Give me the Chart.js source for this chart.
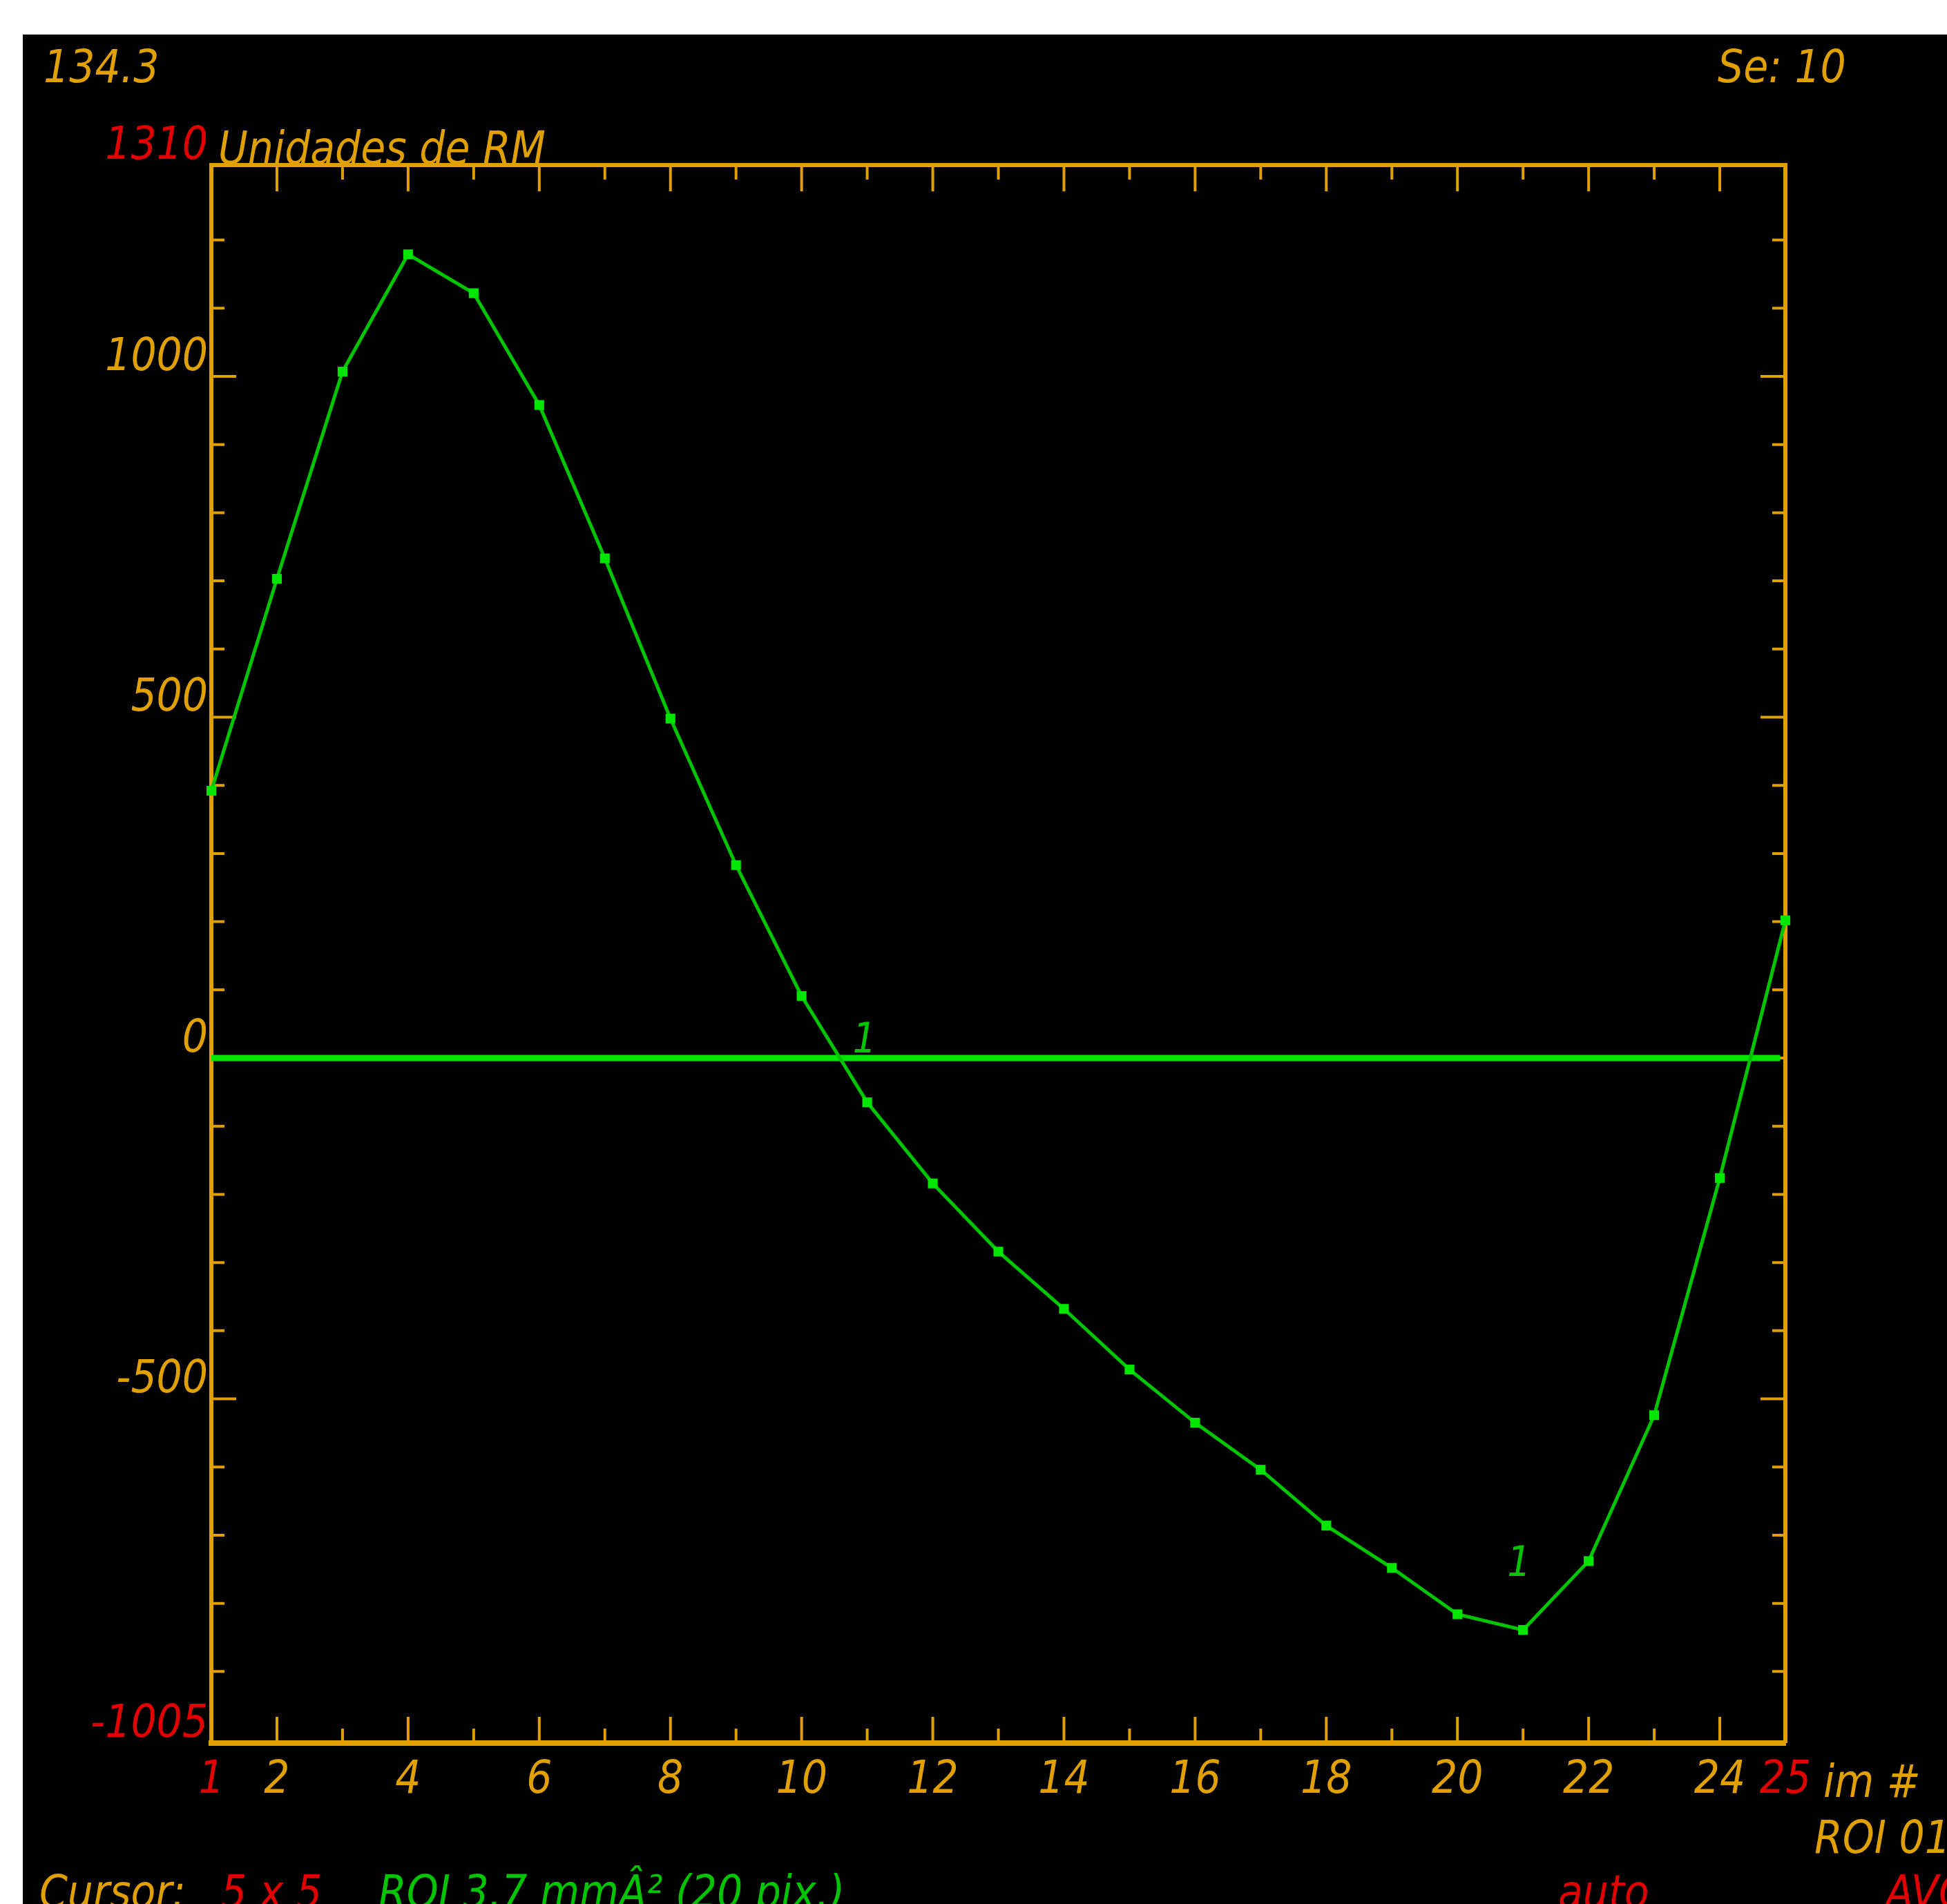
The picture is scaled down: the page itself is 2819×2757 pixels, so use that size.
<!DOCTYPE html>
<html>
<head>
<meta charset="utf-8">
<script src="https://cdn.jsdelivr.net/npm/chart.js@4.4.0/dist/chart.umd.min.js"></script>
<style>
  html, body { margin: 0; padding: 0; background: #fff; }
  canvas { display: block; }
</style>
</head>
<body>
<canvas id="roiChart" width="2819" height="2757"></canvas>
<script>
// ROI mean signal (Unidades de RM) per image number
var imageNumbers = [1, 2, 3, 4, 5, 6, 7, 8, 9, 10, 11, 12, 13, 14, 15, 16, 17, 18, 19, 20, 21, 22, 23, 24, 25];
var roiValues = [392, 703, 1007, 1179, 1122, 958, 733, 498, 283, 91, -65, -184, -284, -368, -457, -535, -604, -686, -748, -816, -839, -738, -524, -176, 202];
var zeroLineX = [1, 24.92];
var zeroLineY = [0, 0];
var yMin = -1005;
var yMax = 1310;
var yLabelTicks = [-1005, -500, 0, 500, 1000, 1310];
var xLabelTicks = [1, 2, 4, 6, 8, 10, 12, 14, 16, 18, 20, 22, 24, 25];
// where the little "1" curve tags sit, in data units
var curveTags = [{x: 10.96, y: 0}, {x: 20.94, y: -768}];

var amber = '#e0a000';
var red = '#e00000';
var green = '#00c400';
var brightGreen = '#00e600';
var fontFamily = "'Liberation Sans Narrow', 'DejaVu Sans Condensed', 'DejaVu Sans', sans-serif";
var fontSize = 65;

function txt(ctx, s, x, y, color, align) {
  ctx.fillStyle = color;
  ctx.textAlign = align || 'left';
  ctx.textBaseline = 'alphabetic';
  ctx.fillText(s, x, y);
}

var screenPlugin = {
  id: 'screen',
  beforeDraw: function(chart) {
    var ctx = chart.ctx;
    ctx.save();
    ctx.fillStyle = '#fff';
    ctx.fillRect(0, 0, chart.width, chart.height);
    ctx.fillStyle = '#000';
    ctx.fillRect(33, 50, chart.width - 33, chart.height - 50);
    ctx.restore();
  },
  beforeDatasetsDraw: function(chart) {
    var ctx = chart.ctx, a = chart.chartArea;
    var xs = chart.scales.x, ys = chart.scales.y;
    ctx.save();
    ctx.strokeStyle = amber;
    ctx.lineWidth = 6;
    ctx.beginPath();
    ctx.moveTo(a.left, a.top);
    ctx.lineTo(a.right, a.top);
    ctx.lineTo(a.right, a.bottom);
    ctx.stroke();
    ctx.lineWidth = 4;
    ctx.beginPath();
    imageNumbers.forEach(function(n) {
      if (n === 1 || n === 25) return;
      var px = xs.getPixelForValue(n);
      var len = n % 2 === 0 ? 38 : 21;
      ctx.moveTo(px, a.bottom);
      ctx.lineTo(px, a.bottom - len);
      ctx.moveTo(px, a.top);
      ctx.lineTo(px, a.top + len);
    });
    for (var v = -900; v <= 1200; v += 100) {
      var py = ys.getPixelForValue(v);
      var len = v % 500 === 0 ? 36 : 19;
      ctx.moveTo(a.left, py);
      ctx.lineTo(a.left + len, py);
      ctx.moveTo(a.right, py);
      ctx.lineTo(a.right - len, py);
    }
    ctx.stroke();
    ctx.restore();
  },
  afterDraw: function(chart) {
    var ctx = chart.ctx, a = chart.chartArea;
    var xs = chart.scales.x, ys = chart.scales.y;
    ctx.save();
    ctx.font = 'italic ' + fontSize + 'px ' + fontFamily;
    txt(ctx, '134.3', 63, 119, amber);
    txt(ctx, 'Se: 10', 2487, 119, amber);
    txt(ctx, 'Unidades de RM', a.left + 10, a.top - 2, amber);
    txt(ctx, 'im #', 2640, a.bottom + 78, amber);
    txt(ctx, 'ROI 01', 2627, 2683, amber);
    txt(ctx, 'Cursor:', 57, 2762, amber);
    txt(ctx, '5 x 5', 320, 2762, red);
    txt(ctx, 'ROI 3.7 mmÂ² (20 pix.)', 548, 2762, green);
    txt(ctx, 'auto', 2256, 2762, red);
    txt(ctx, 'AVG', 2730, 2762, red);
    ctx.font = 'italic 60px ' + fontFamily;
    curveTags.forEach(function(t) {
      txt(ctx, '1', xs.getPixelForValue(t.x), ys.getPixelForValue(t.y) - 8, green, 'center');
    });
    ctx.restore();
  }
};

var tickFont = { family: fontFamily, size: fontSize, style: 'italic' };

new Chart(document.getElementById('roiChart'), {
  type: 'line',
  data: {
    datasets: [{
      label: 'ROI 01',
      data: imageNumbers.map(function(n, i) { return { x: n, y: roiValues[i] }; }),
      borderColor: green,
      borderWidth: 5,
      pointStyle: 'rect',
      pointRadius: 10,
      pointBorderWidth: 0,
      pointBackgroundColor: brightGreen,
      tension: 0,
      clip: 12
    }, {
      label: 'zero',
      data: zeroLineX.map(function(x, i) { return { x: x, y: zeroLineY[i] }; }),
      borderColor: brightGreen,
      borderWidth: 9,
      pointRadius: 0
    }]
  },
  options: {
    responsive: false,
    animation: false,
    devicePixelRatio: 1,
    events: [],
    layout: { padding: { left: 0, top: 239, right: 234, bottom: 0 } },
    plugins: { legend: { display: false }, tooltip: { enabled: false } },
    scales: {
      x: {
        type: 'linear',
        min: 1,
        max: 25,
        afterBuildTicks: function(scale) {
          scale.ticks = xLabelTicks.map(function(v) { return { value: v }; });
        },
        afterFit: function(scale) { scale.height = 233; },
        grid: { drawOnChartArea: false, drawTicks: false },
        border: { color: amber, width: 8 },
        ticks: {
          autoSkip: false,
          maxRotation: 0,
          padding: 16,
          font: tickFont,
          color: function(c) { return (c.tick.value === 1 || c.tick.value === 25) ? red : amber; },
          callback: function(v) { return String(v); }
        }
      },
      y: {
        type: 'linear',
        min: yMin,
        max: yMax,
        afterBuildTicks: function(scale) {
          scale.ticks = yLabelTicks.map(function(v) { return { value: v }; });
        },
        afterFit: function(scale) { scale.width = 306; },
        grid: { drawOnChartArea: false, drawTicks: false },
        border: { color: amber, width: 6 },
        ticks: {
          autoSkip: false,
          padding: 5,
          labelOffset: -26,
          font: tickFont,
          color: function(c) { return (c.tick.value === yMin || c.tick.value === yMax) ? red : amber; },
          callback: function(v) { return String(v); }
        }
      }
    }
  },
  plugins: [screenPlugin]
});
</script>
</body>
</html>
